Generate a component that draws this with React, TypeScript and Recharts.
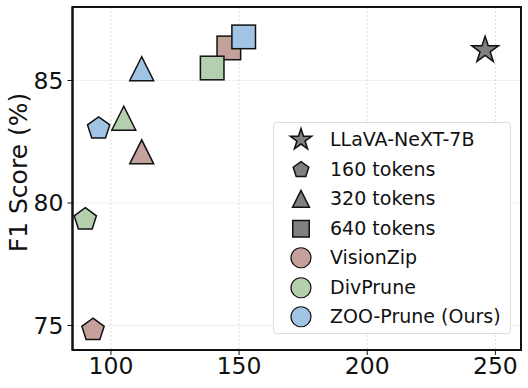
import { ScatterChart, Scatter, XAxis, YAxis, CartesianGrid, ReferenceArea } from "recharts";

const FONT = "'DejaVu Sans', sans-serif";

// method names + colours
const methods = ["VisionZip", "DivPrune", "ZOO-Prune (Ours)"];
const methodColors = ["#c4a19b", "#b3cfae", "#a2c4e4"];

// token budgets (marker shape per budget)
const budgets = ["160 tokens", "320 tokens", "640 tokens"];
const budgetShapes = ["pentagon", "triangle", "square"];

// x value and F1 score, one entry per budget
const visionZipX = [93, 112, 146];
const visionZipY = [74.82, 82.09, 86.33];
const divPruneX = [90, 105, 139.5];
const divPruneY = [79.33, 83.46, 85.51];
const zooPruneX = [95.2, 112, 151.8];
const zooPruneY = [83.04, 85.48, 86.78];

const baselineName = "LLaVA-NeXT-7B";
const baselineX = [246];
const baselineY = [86.24];

const xTicks = [100, 150, 200, 250];
const yTicks = [75, 80, 85];

function polyPoints(cx: number, cy: number, R: number, n: number, inner?: number) {
  const pts: string[] = [];
  const steps = inner ? n * 2 : n;
  for (let i = 0; i < steps; i++) {
    const a = -Math.PI / 2 + (i * 2 * Math.PI) / steps;
    const r = inner && i % 2 === 1 ? inner : R;
    pts.push(`${cx + r * Math.cos(a)},${cy + r * Math.sin(a)}`);
  }
  return pts.join(" ");
}

function Marker({ kind, cx, cy, fill, scale = 1 }: { kind: string; cx: number; cy: number; fill: string; scale?: number }) {
  const sw = 1.5;
  if (kind === "star") {
    const R = 14 * scale;
    return <polygon points={polyPoints(cx, cy, R, 5, R * 0.382)} fill={fill} stroke="#111" strokeWidth={sw} />;
  }
  if (kind === "pentagon") {
    return <polygon points={polyPoints(cx, cy, 11.7 * scale, 5)} fill={fill} stroke="#111" strokeWidth={sw} />;
  }
  if (kind === "triangle") {
    const h = 12 * scale;
    return <polygon points={`${cx},${cy - h} ${cx - h},${cy + h} ${cx + h},${cy + h}`} fill={fill} stroke="#111" strokeWidth={sw} />;
  }
  if (kind === "square") {
    const h = 11.8 * scale;
    return <rect x={cx - h} y={cy - h} width={2 * h} height={2 * h} fill={fill} stroke="#111" strokeWidth={sw} />;
  }
  return <circle cx={cx} cy={cy} r={10 * scale} fill={fill} stroke="#111" strokeWidth={1.2} />;
}

const toPoints = (xs: number[], ys: number[]) => xs.map((x, i) => ({ x, y: ys[i], k: i }));

const series = [
  { name: methods[0], color: methodColors[0], data: toPoints(visionZipX, visionZipY) },
  { name: methods[1], color: methodColors[1], data: toPoints(divPruneX, divPruneY) },
  { name: methods[2], color: methodColors[2], data: toPoints(zooPruneX, zooPruneY) },
];

function LegendBox() {
  const rows: { kind: string; fill: string; label: string; scale: number }[] = [
    { kind: "star", fill: "#808080", label: baselineName, scale: 0.8 },
    ...budgets.map((b, i) => ({ kind: budgetShapes[i], fill: "#808080", label: b, scale: 0.7 })),
    ...methods.map((m, i) => ({ kind: "circle", fill: methodColors[i], label: m, scale: 1 })),
  ];
  return (
    <div
      style={{
        position: "absolute",
        left: 273,
        top: 122,
        width: 238,
        height: 212,
        boxSizing: "border-box",
        border: "1px solid #dcdcdc",
        borderRadius: 4,
        background: "rgba(255,255,255,0.85)",
        paddingTop: 2,
        fontFamily: FONT,
        fontSize: 19,
        color: "#111",
      }}
    >
      {rows.map((r) => (
        <div key={r.label} style={{ display: "flex", alignItems: "center", height: 29.5 }}>
          <svg width={56} height={29.5} style={{ flex: "none" }}>
            <Marker kind={r.kind} cx={27} cy={14.75} fill={r.fill} scale={r.scale} />
          </svg>
          <span style={{ whiteSpace: "nowrap", lineHeight: "29.5px" }}>{r.label}</span>
        </div>
      ))}
    </div>
  );
}

const YLabel = (props: any) => {
  const { viewBox } = props;
  const cy = viewBox.y + viewBox.height / 2 - 6;
  return (
    <text x={18} y={cy} transform={`rotate(-90, 18, ${cy})`} textAnchor="middle" dominantBaseline="central" fontFamily={FONT} fontSize={25} fill="#111">
      F1 Score (%)
    </text>
  );
};

export default function App() {
  return (
    <div style={{ position: "absolute", left: 0, top: 0, width: 528, height: 388, background: "#fff" }}>
      <ScatterChart width={528} height={388} margin={{ top: 7, right: 7, bottom: 0, left: 0 }}>
        <CartesianGrid stroke="#dedede" strokeDasharray="2 2" horizontalValues={yTicks} verticalValues={xTicks} />
        <XAxis
          type="number"
          dataKey="x"
          domain={[85, 260]}
          ticks={xTicks}
          height={38}
          tickSize={5}
          tickMargin={2}
          tick={{ fontFamily: FONT, fontSize: 23.5, fill: "#111" }}
          axisLine={{ stroke: "#111", strokeWidth: 2 }}
          tickLine={{ stroke: "#111" }}
          allowDataOverflow
        />
        <YAxis
          type="number"
          dataKey="y"
          domain={[74, 88]}
          ticks={yTicks}
          width={72.5}
          tickSize={5}
          tickMargin={4}
          tick={{ fontFamily: FONT, fontSize: 23.5, fill: "#111" }}
          axisLine={{ stroke: "#111", strokeWidth: 2 }}
          tickLine={{ stroke: "#111" }}
          label={<YLabel />}
          allowDataOverflow
        />
        <ReferenceArea x1={85} x2={260} y1={74} y2={88} fill="none" stroke="#111" strokeWidth={2} ifOverflow="visible" />
        <Scatter
          name={baselineName}
          data={toPoints(baselineX, baselineY)}
          fill="#808080"
          isAnimationActive={false}
          shape={(p: any) => <Marker kind="star" cx={p.cx} cy={p.cy} fill="#808080" />}
        />
        {series.map((s) => (
          <Scatter
            key={s.name}
            name={s.name}
            data={s.data}
            fill={s.color}
            isAnimationActive={false}
            shape={(p: any) => <Marker kind={budgetShapes[p.payload.k]} cx={p.cx} cy={p.cy} fill={s.color} />}
          />
        ))}
      </ScatterChart>
      <LegendBox />
    </div>
  );
}
